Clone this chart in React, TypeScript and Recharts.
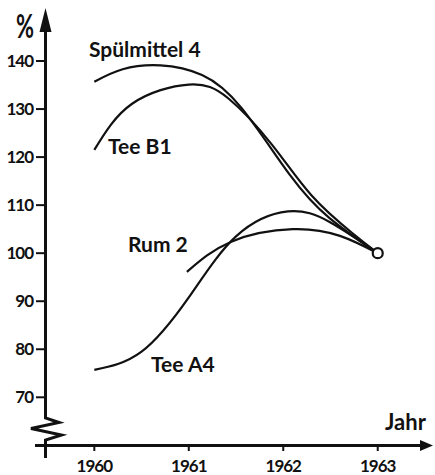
import React from "react";
import { LineChart, Line, XAxis, YAxis, ReferenceDot, Customized } from "recharts";

const spuelmittel4 = [
  { year: 1960, value: 135.7 },
  { year: 1960.3, value: 138.3 },
  { year: 1960.7, value: 139.1 },
  { year: 1961.14, value: 137.1 },
  { year: 1961.56, value: 130.2 },
  { year: 1962.07, value: 116.3 },
  { year: 1962.49, value: 107.3 },
  { year: 1963, value: 100 },
];

const teeB1 = [
  { year: 1960, value: 121.5 },
  { year: 1960.4, value: 131.1 },
  { year: 1961.0, value: 135.1 },
  { year: 1961.42, value: 132.2 },
  { year: 1961.88, value: 122.6 },
  { year: 1962.3, value: 112.0 },
  { year: 1962.73, value: 104.2 },
  { year: 1963, value: 100 },
];

const rum2 = [
  { year: 1960.98, value: 96.1 },
  { year: 1961.45, value: 102.4 },
  { year: 1962.1, value: 105.0 },
  { year: 1962.6, value: 103.6 },
  { year: 1963, value: 100 },
];

const teeA4 = [
  { year: 1960, value: 75.7 },
  { year: 1960.5, value: 79.5 },
  { year: 1961.0, value: 90.8 },
  { year: 1961.5, value: 103.5 },
  { year: 1962.05, value: 108.7 },
  { year: 1962.5, value: 106.4 },
  { year: 1963, value: 100 },
];

const xTicks = [1960, 1961, 1962, 1963];
const yTicks = [70, 80, 90, 100, 110, 120, 130, 140];

const seriesLabels = [
  { text: "Spülmittel 4", x: 89, y: 57 },
  { text: "Tee B1", x: 108, y: 154 },
  { text: "Rum 2", x: 128, y: 252 },
  { text: "Tee A4", x: 151, y: 372 },
];

const FONT = "Lato, 'DejaVu Sans', sans-serif";
const INK = "#111";

const Decorations = () => (
  <g>
    {/* y axis with break */}
    <polyline
      points="45.5,458 45.5,440 61.5,435 31,428.5 59,422.5 45.5,418 45.5,28"
      fill="none"
      stroke={INK}
      strokeWidth={3}
      strokeLinejoin="miter"
    />
    <polygon points="45.5,8 39.5,32 51.5,32" fill={INK} />
    {/* x axis */}
    <line x1={35} y1={445.5} x2={423} y2={445.5} stroke={INK} strokeWidth={3} />
    <polygon points="433,445.5 420,440 420,451" fill={INK} />
    {/* axis titles */}
    <text x={16} y={38} fontSize={32} fontFamily={FONT} fontWeight={700} fill={INK} textLength={18} lengthAdjust="spacingAndGlyphs">%</text>
    <text x={385} y={430} fontSize={22} fontFamily={FONT} fontWeight={700} fill={INK}>Jahr</text>
    {seriesLabels.map((l) => (
      <text key={l.text} x={l.x} y={l.y} fontSize={21} fontFamily={FONT} fontWeight={700} fill={INK}>
        {l.text}
      </text>
    ))}
  </g>
);

export default function App() {
  return (
    <div style={{ width: 435, height: 475, background: "#fff" }}>
      <style>{"body{margin:0;background:#fff}"}</style>
      <LineChart width={435} height={475} margin={{ top: 10, right: 2, bottom: 0, left: 0 }}>
        <XAxis
          type="number"
          dataKey="year"
          domain={[1959.478, 1963.585]}
          allowDataOverflow
          ticks={xTicks}
          axisLine={false}
          tickLine={{ stroke: INK, strokeWidth: 2 }}
          tickSize={6}
          tickMargin={9}
          height={30}
          tick={{ fill: INK, fontSize: 17, fontFamily: FONT, fontWeight: 700, letterSpacing: -1 }}
        />
        <YAxis
          type="number"
          domain={[60.07, 150.62]}
          allowDataOverflow
          ticks={yTicks}
          axisLine={false}
          tickLine={{ stroke: INK, strokeWidth: 2 }}
          tickSize={9}
          tickMargin={3}
          width={45}
          tick={{ fill: INK, fontSize: 17, fontFamily: FONT, fontWeight: 700, letterSpacing: -1 }}
        />
        <Line data={spuelmittel4} dataKey="value" type="natural" stroke={INK} strokeWidth={2.2} dot={false} isAnimationActive={false} />
        <Line data={teeB1} dataKey="value" type="natural" stroke={INK} strokeWidth={2.2} dot={false} isAnimationActive={false} />
        <Line data={rum2} dataKey="value" type="natural" stroke={INK} strokeWidth={2.2} dot={false} isAnimationActive={false} />
        <Line data={teeA4} dataKey="value" type="natural" stroke={INK} strokeWidth={2.2} dot={false} isAnimationActive={false} />
        <ReferenceDot x={1963} y={100} r={5} fill="#fff" stroke={INK} strokeWidth={2.2} />
        <Customized component={Decorations} />
      </LineChart>
    </div>
  );
}
